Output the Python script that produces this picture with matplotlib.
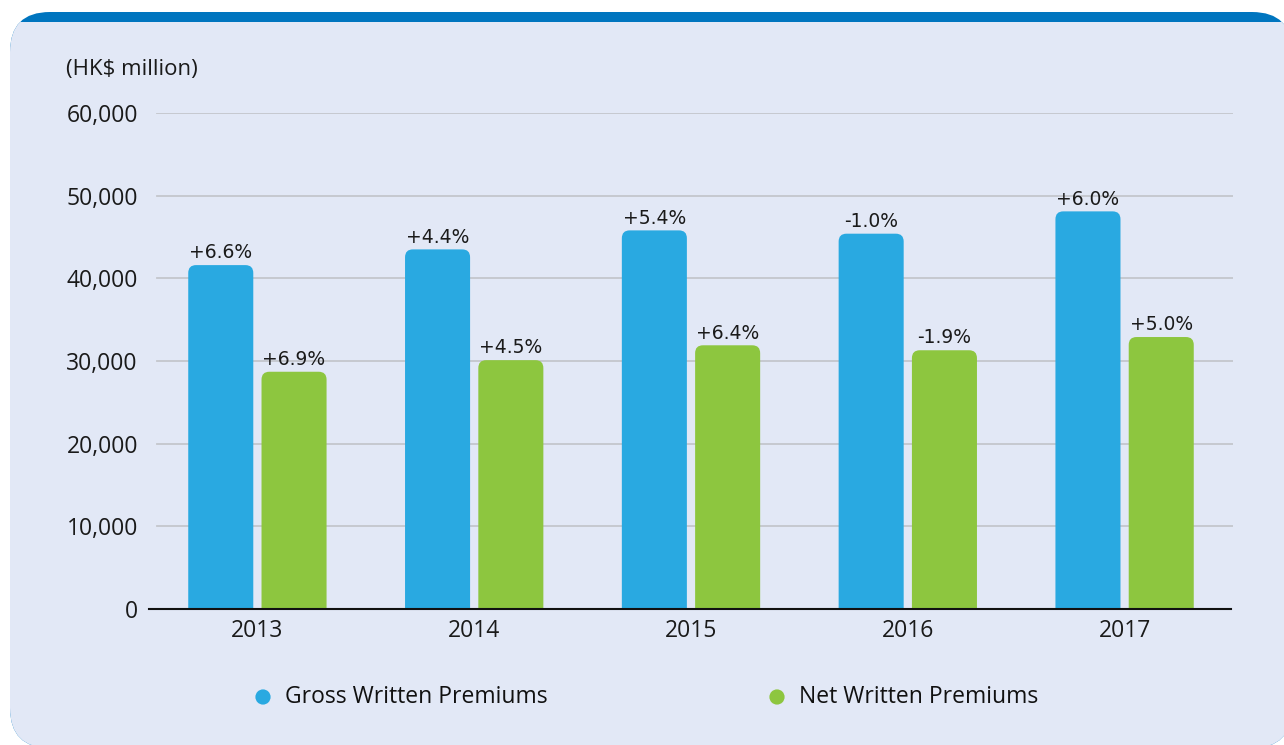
import matplotlib
matplotlib.use('Agg')
import matplotlib.pyplot as plt
from matplotlib.patches import FancyBboxPatch, Rectangle
import numpy as np

# data
years = ['2013', '2014', '2015', '2016', '2017']
gross = [41600, 43500, 45800, 45400, 48100]
net = [28700, 30100, 31900, 31300, 32900]
gross_chg = ['+6.6%', '+4.4%', '+5.4%', '-1.0%', '+6.0%']
net_chg = ['+6.9%', '+4.5%', '+6.4%', '-1.9%', '+5.0%']
yticks = [0, 10000, 20000, 30000, 40000, 50000, 60000]

BLUE = '#29A9E1'
GREEN = '#8DC63F'
PANEL = '#E2E8F6'
TOPBAR = '#0075BF'
W, H = 1284, 745
FS = 16.5

fig = plt.figure(figsize=(W / 100, H / 100), dpi=100, facecolor='white')

# background panel (pixel coordinates)
bg = fig.add_axes([0, 0, 1, 1], zorder=0)
bg.set_xlim(0, W)
bg.set_ylim(H, 0)
bg.axis('off')
bg.add_patch(FancyBboxPatch((10, 12), 1282, 736,
                            boxstyle='round,pad=0,rounding_size=40',
                            facecolor=TOPBAR, edgecolor='none'))
lav = FancyBboxPatch((10, 12), 1282, 736,
                     boxstyle='round,pad=0,rounding_size=40',
                     facecolor=PANEL, edgecolor='none')
bg.add_patch(lav)
# lavender covers everything below the blue strip
clip = Rectangle((0, 22), W + 20, H, transform=bg.transData)
lav.set_clip_path(clip)

bg.text(66, 70, '(HK$ million)', fontsize=16, family='Open Sans',
        color='#1a1a1a', va='center', ha='left')

# legend drawn by hand
bg.scatter([263], [697], s=120, color=BLUE, edgecolors='none')
bg.text(285, 697, 'Gross Written Premiums', fontsize=FS, family='Open Sans',
        color='#111111', va='center', ha='left')
bg.scatter([777], [697], s=120, color=GREEN, edgecolors='none')
bg.text(799, 697, 'Net Written Premiums', fontsize=FS, family='Open Sans',
        color='#111111', va='center', ha='left')

# main chart
ax = fig.add_axes([149 / W, (H - 609) / H, (1233 - 149) / W, (609 - 113) / H], zorder=1)
ax.patch.set_alpha(0)
ax.set_xlim(-0.5, len(years) - 0.5)
ax.set_ylim(0, 60000)

x = np.arange(len(years))
bw = 0.30
off = 0.169

def rounded_bars(xs, vals, color):
    bars = ax.bar(xs, vals, width=bw, color=color)
    for b in bars:
        b.set_visible(False)
        r_y = 950
        p = FancyBboxPatch((b.get_x(), -2 * r_y), b.get_width(), b.get_height() + 2 * r_y,
                           boxstyle='round,pad=0,rounding_size=0.036',
                           mutation_aspect=r_y / 0.036,
                           facecolor=color, edgecolor='none', zorder=3)
        ax.add_patch(p)
    return bars

rounded_bars(x - off, gross, BLUE)
rounded_bars(x + off, net, GREEN)

for xi, v, lab in zip(x - off, gross, gross_chg):
    ax.annotate(lab, (xi, v), xytext=(0, 2), textcoords='offset points',
                ha='center', va='bottom', fontsize=13.5, color='#1a1a1a')
for xi, v, lab in zip(x + off, net, net_chg):
    ax.annotate(lab, (xi, v), xytext=(0, 2), textcoords='offset points',
                ha='center', va='bottom', fontsize=13.5, color='#1a1a1a')

ax.set_yticks(yticks)
ax.set_yticklabels([f'{t:,}' for t in yticks], fontsize=FS, family='Open Sans', color='#1a1a1a')
ax.set_xticks(x)
ax.set_xticklabels(years, fontsize=FS, family='Open Sans', color='#1a1a1a')
ax.tick_params(axis='y', length=0, pad=8)
ax.tick_params(axis='x', length=0, pad=7)

# grid lines start a little right of the axis line
for t in yticks[1:]:
    ax.axhline(t, xmin=8 / 1084, xmax=1, color='#C4C6CC', linewidth=1.3, zorder=0)
for s in ['left', 'right', 'top']:
    ax.spines[s].set_visible(False)
ax.spines['bottom'].set_color('#111111')
ax.spines['bottom'].set_linewidth(1.5)
ax.spines['bottom'].set_zorder(4)
ax.spines['bottom'].set_bounds(-0.5, 4.49)

fig.savefig('out.png', dpi=100, facecolor='white')
